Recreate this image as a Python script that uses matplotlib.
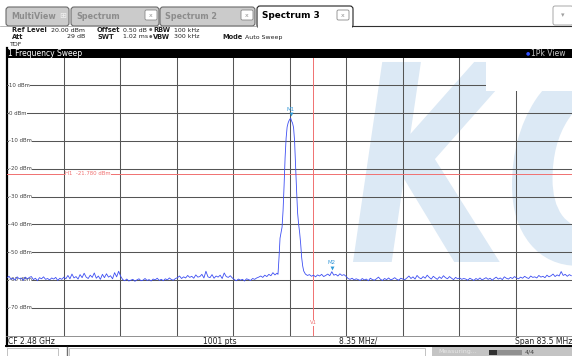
import numpy as np
import matplotlib.pyplot as plt
from matplotlib.patches import Rectangle, FancyBboxPatch, PathPatch
from matplotlib.textpath import TextPath
from matplotlib.font_manager import FontProperties
from matplotlib.transforms import Affine2D, blended_transform_factory

# sweep settings
cf_ghz = 2.48
span_mhz = 83.5
ref_level = 20
bottom_level = -80
step_mhz = 0.3

# trace (dBm)
noise_left = [-59.2, -58.7, -59.8, -59.4, -60.1, -58.9, -59.6, -59.3, -60.2, -59.0,
              -59.7, -59.1, -58.8, -59.9, -59.4, -60.3, -59.2, -59.6, -58.9, -59.8,
              -59.5, -60.0, -59.3, -59.7, -59.1, -60.2, -59.4, -59.8, -59.0, -59.6,
              -58.4, -59.6, -57.9, -59.3, -58.8, -59.7, -58.1, -59.2, -57.6, -59.0,
              -59.5, -58.3, -59.1, -57.5, -59.4, -58.6, -59.8, -58.0, -59.2, -57.8,
              -59.0, -58.5, -59.6, -57.4, -58.9, -56.9, -58.7,
              -59.9, -60.3, -59.7, -60.4, -60.1, -59.8, -60.5, -60.0, -59.6, -60.3,
              -60.1, -59.5, -60.2, -59.9, -60.4, -59.7, -60.0, -59.4, -60.2, -59.8,
              -60.3, -59.6, -60.0, -59.3, -59.9, -60.1, -59.5,
              -59.2, -58.6, -59.5, -58.9, -59.3, -58.4, -59.1, -58.7, -59.4, -58.2,
              -59.0, -58.8, -58.0, -59.3, -56.9, -58.9, -59.2, -58.1, -59.4, -58.6,
              -59.0, -58.3, -59.5, -57.5, -58.8, -59.1, -58.5, -59.3,
              -59.9, -60.3, -59.7, -60.1, -59.8, -60.4, -59.6, -59.9, -60.2, -59.5,
              -59.8, -59.3, -59.0, -58.6, -59.1, -58.3, -58.8, -58.0, -58.5, -57.4,
              -58.2, -57.6]
peak_mhz = [40.05, 40.20, 40.35, 40.50, 40.65, 40.80, 40.95, 41.10, 41.25, 41.40,
            41.55, 41.70, 41.917, 42.05, 42.20, 42.35, 42.50, 42.65, 42.80, 42.95,
            43.10, 43.25, 43.40, 43.55, 43.70, 43.85, 44.00]
peak_dbm = [-58.0, -52.0, -45.0, -43.0, -41.0, -35.0, -26.0, -16.0, -9.0, -5.0,
            -3.5, -2.6, -1.78, -2.8, -3.6, -5.2, -10.0, -19.0, -28.0, -36.0,
            -40.0, -43.0, -47.0, -52.0, -55.0, -56.8, -57.5]
right_start_mhz = 44.1
noise_right = [-57.9, -58.4, -58.1, -58.7, -58.3, -58.9, -58.2, -58.6, -58.0, -58.8,
               -58.4, -57.9, -58.5, -57.06,
               -58.3, -58.0, -58.6, -57.8, -58.4, -58.1, -58.7, -59.5, -59.8, -59.4,
               -60.0, -59.6,
               -59.9, -60.2, -59.5, -60.0, -59.7, -60.3, -59.4, -59.9, -60.1, -59.6,
               -59.0, -59.8, -60.2, -59.5, -59.9, -59.3, -60.0, -59.7, -59.2, -59.8,
               -60.1, -59.4, -59.7, -59.9,
               -59.3, -58.6, -59.5, -58.9, -59.7, -58.4, -59.2, -59.6, -58.8, -59.4,
               -58.3, -59.1, -59.7, -58.7, -59.3, -59.8, -58.9, -59.5, -58.5, -59.2,
               -59.6, -58.8, -59.4, -59.9, -59.1, -59.6, -59.3, -59.8, -59.5,
               -59.7, -60.1, -59.4, -59.8, -60.2, -59.5, -59.9, -59.3, -60.0, -59.6,
               -59.2, -59.8, -59.4, -60.1, -59.5, -59.0, -59.7, -59.3, -59.9, -58.9,
               -59.4, -59.7, -59.1, -59.5, -58.8, -59.3, -59.6, -59.0, -59.4, -58.7,
               -59.2, -59.5, -58.6, -59.1, -58.9, -59.3, -58.4, -59.0, -58.7, -59.2,
               -58.3, -58.9, -58.5, -57.9, -58.8, -58.2, -58.6, -57.0, -58.4, -58.0,
               -58.7, -58.1, -58.5]

# markers / lines
m1_ghz, m1_dbm = 2.4801670, -1.78
m2_ghz, m2_dbm = 2.4862530, -57.06
v1_ghz = 2.4835
h1_dbm = -21.78
y_levels = [10, 0, -10, -20, -30, -40, -50, -60, -70]

start_ghz = cf_ghz - span_mhz / 2000
def off(ghz):
    return (ghz - start_ghz) * 1000

freq = np.concatenate([np.arange(len(noise_left)) * step_mhz,
                       peak_mhz,
                       right_start_mhz + np.arange(len(noise_right)) * step_mhz])
level = np.concatenate([noise_left, peak_dbm, noise_right])

W, H = 572, 356
fig = plt.figure(figsize=(W / 100, H / 100), dpi=100)
bg = fig.add_axes([0, 0, 1, 1])
bg.set_xlim(0, W)
bg.set_ylim(H, 0)
bg.axis('off')

GRAY_TXT = '#8c8c8c'
BLUE_M = '#3a9ad9'
RED = '#f07070'

# ---- tabs
for name, x0, x1 in [("MultiView", 6, 69), ("Spectrum", 71, 159), ("Spectrum 2", 160, 255)]:
    bg.add_patch(FancyBboxPatch((x0, 7), x1 - x0, 19, boxstyle="round,pad=0,rounding_size=3",
                                fc='#cbcbcb', ec='#6a6a6a', lw=0.8))
    bg.text(x0 + 5, 16.5, name, fontsize=5.8, fontweight='bold', color=GRAY_TXT, va='center')
bg.text(59, 16, '\u229e', fontsize=6, color='#f0f0f0', va='center')
bg.add_patch(FancyBboxPatch((257, 6), 96, 22, boxstyle="round,pad=0,rounding_size=3",
                            fc='white', ec='#202020', lw=0.8))
bg.add_patch(Rectangle((257.8, 24.5), 94.4, 4, fc='white', ec='none'))
bg.plot([353, 572], [25.5, 25.5], color='#303030', lw=0.8)
bg.plot([0, 257], [25.8, 25.8], color='#9a9a9a', lw=0.5)
bg.text(262, 15.5, "Spectrum 3", fontsize=6.4, fontweight='bold', color='black', va='center')
for cx in [145, 241, 337]:
    bg.add_patch(FancyBboxPatch((cx, 10), 12, 10, boxstyle="round,pad=0,rounding_size=1.5",
                                fc='white', ec='#8a8a8a', lw=0.6))
    bg.text(cx + 6, 15.2, 'x', fontsize=4.5, color='#909090', ha='center', va='center')
bg.add_patch(FancyBboxPatch((553, 6), 20, 19, boxstyle="round,pad=0,rounding_size=2",
                            fc='white', ec='#9a9a9a', lw=0.6))
bg.text(563, 15, '\u25be', fontsize=5, color='#a0a0a0', ha='center', va='center')

# ---- header info
lab = dict(fontsize=4.8, va='center', color='#202020', fontweight='bold')
val = dict(fontsize=4.5, va='center', color='#202020')
dot = dict(fontsize=2.8, va='center', color='#606060')
bg.text(12, 30, "Ref Level", **lab)
bg.text(51, 30, "20.00 dBm", **val)
bg.text(97, 30, "Offset", **lab)
bg.text(123, 30, "0.50 dB", **val)
bg.text(149, 30, "\u25cf", **dot)
bg.text(153, 30, "RBW", **lab)
bg.text(174, 30, "100 kHz", **val)
bg.text(12, 37, "Att", **lab)
bg.text(85, 37, "29 dB", ha='right', **val)
bg.text(97, 37, "SWT", **lab)
bg.text(123, 37, "1.02 ms", **val)
bg.text(149, 37, "\u25cf", **dot)
bg.text(153, 37, "VBW", **lab)
bg.text(174, 37, "300 kHz", **val)
bg.text(222, 37, "Mode", **lab)
bg.text(245, 37, "Auto Sweep", **val)
bg.text(10, 44, "TDF", **val)

# ---- window title bar
bg.add_patch(Rectangle((5.5, 48.5), 567, 9, fc='black', ec='none'))
bg.text(8, 53, "1 Frequency Sweep", fontsize=5.5, color='white', va='center')
bg.text(528, 53, "\u25cf", fontsize=3.5, color='#3050ff', va='center', ha='center')
bg.text(531, 53, "1Pk View", fontsize=5.5, color='#c8c8c8', va='center')

# ---- plot area background + watermark
px_l, px_r, px_t, px_b = 7, 572, 57.5, 335.5
bg.add_patch(Rectangle((px_l, px_t), px_r - px_l, px_b - px_t, fc='white', ec='none'))
fp = FontProperties(family='DejaVu Sans', weight='bold', style='italic')
sy = 200 / 0.729
sx = 0.75 * sy
for ch, left in [('K', 353), ('C', 512)]:
    tp = TextPath((0, 0), ch, size=1, prop=fp)
    ext = tp.get_extents()
    wm = Affine2D().scale(sx, -sy).translate(left - ext.x0 * sx, 262).transform_path(tp)
    bg.add_patch(PathPatch(wm, fc='#dce9f5', ec='none'))

# ---- spectrum axes
ax = fig.add_axes([px_l / W, 1 - px_b / H, (px_r - px_l) / W, (px_b - px_t) / H])
ax.patch.set_alpha(0)
ax.set_xlim(0, span_mhz)
ax.set_ylim(bottom_level, ref_level)
ax.set_xticks([])
ax.set_yticks([])
for s in ax.spines.values():
    s.set_visible(False)

for i in range(1, 10):
    ax.axvline(i * span_mhz / 10, color='#555555', lw=0.75, zorder=1)
for lv in y_levels:
    ax.axhline(lv, color='#555555', lw=0.75, zorder=1)

# marker table box hides grid under it
tbl_x0 = (486 - px_l) / (px_r - px_l)
tbl_y0 = 1 - (91 - px_t) / (px_b - px_t)
ax.add_patch(Rectangle((tbl_x0, tbl_y0), 1 - tbl_x0, 1 - tbl_y0, transform=ax.transAxes,
                       fc='white', ec='none', zorder=2))

tr = blended_transform_factory(ax.transAxes, ax.transData)
for lv in y_levels:
    ax.text(0.0035, lv, f"{lv} dBm", transform=tr, fontsize=3.9, color='#404040', va='center',
            bbox=dict(fc='white', ec='none', pad=0.3), zorder=3)

ax.axhline(h1_dbm, color=RED, lw=0.7, zorder=3)
ax.text(8.6, h1_dbm, "H1  -21.780 dBm", fontsize=3.9, color=RED, va='center',
        bbox=dict(fc='white', ec='none', pad=0.2), zorder=4)
ax.axvline(off(v1_ghz), color=RED, lw=0.7, zorder=3)
ax.text(off(v1_ghz), -75.5, "V1", fontsize=3.9, color=RED, va='center', ha='center',
        bbox=dict(fc='white', ec='none', pad=0.2), zorder=4)

ax.plot(freq, level, color='#3d4ef2', lw=0.6, zorder=5)

for name, g, d in [("M1", m1_ghz, m1_dbm), ("M2", m2_ghz, m2_dbm)]:
    ax.plot(off(g), d + 1.3, marker='v', ms=2.8, color='#2e9ad8', mec='none', zorder=6)
    ax.text(off(g), d + 2.3, name, fontsize=4, color=BLUE_M, ha='center', va='bottom', zorder=6)

# marker table text
mt = dict(fontsize=5.4, color=BLUE_M, va='center')
bg.text(486, 62, "M2[1]", **mt)
bg.text(573, 62, "-57.06 dBm", ha='right', **mt)
bg.text(573, 71, "2.4862530 GHz", ha='right', **mt)
bg.text(486, 79, "M1[1]", **mt)
bg.text(573, 79, "-1.78 dBm", ha='right', **mt)
bg.text(573, 88, "2.4801670 GHz", ha='right', **mt)

# ---- left border + bottom bar
bg.plot([6.5, 6.5], [48, 346], color='black', lw=1.6)
bg.plot([6, 572], [336, 336], color='#808080', lw=0.6)
bf = dict(fontsize=5.5, color='#202020', va='center')
bg.text(8, 341, "CF 2.48 GHz", **bf)
bg.text(203, 341, "1001 pts", **bf)
bg.text(339, 341, "8.35 MHz/", **bf)
bg.text(572, 341, "Span 83.5 MHz", ha='right', **bf)
bg.plot([6, 572], [345.5, 345.5], color='black', lw=1.4)

# ---- status line
bg.add_patch(Rectangle((7, 347.5), 51, 10, fc='white', ec='#b8b8b8', lw=0.6))
bg.plot([67, 67], [347, 356], color='#707070', lw=1.0)
bg.add_patch(Rectangle((69, 347.5), 356, 10, fc='white', ec='#b8b8b8', lw=0.6))
bg.add_patch(Rectangle((432, 347), 141, 10, fc='#c4c4c4', ec='none'))
bg.text(438, 352, "Measuring...", fontsize=4.5, color='#e8e8e8', va='center')
bg.add_patch(Rectangle((489, 349.5), 8, 5, fc='#303030', ec='none'))
bg.add_patch(Rectangle((497, 349.5), 25, 5, fc='#909090', ec='none'))
bg.text(525, 352, "4/4", fontsize=4.5, color='#404040', va='center')

fig.savefig('out.png', dpi=100)
